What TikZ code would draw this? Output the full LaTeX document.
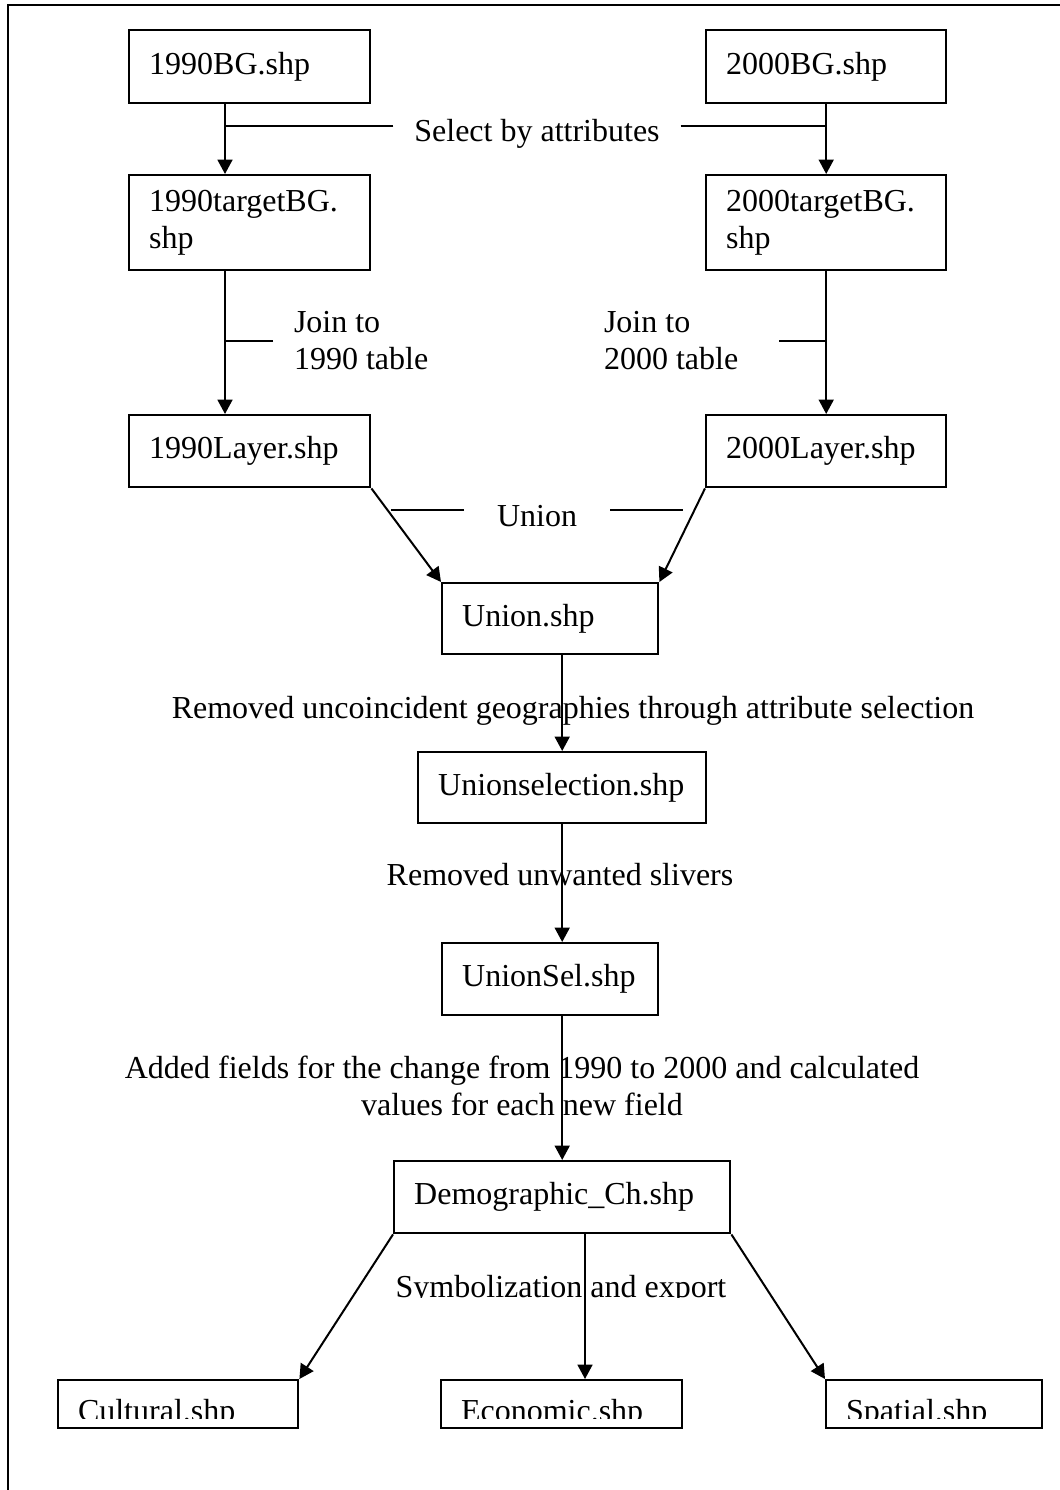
\documentclass[tikz,border=0pt]{standalone}
\usepackage{fontspec}
\setmainfont{Liberation Serif}
\usetikzlibrary{arrows.meta}

\tikzset{
  shpbox/.style 2 args={draw,line width=.9pt,anchor=north west,align=left,
    inner xsep=7.5pt,inner ysep=0pt,text width=#1*.375pt-15pt,
    minimum height=#2*.375pt},
  lbl/.style={inner xsep=7.5pt,inner ysep=0pt},
  flow/.style={->},
}

\begin{document}
\begin{tikzpicture}[x=.375pt,y=-.375pt,line width=.75pt,
  font=\fontsize{12}{13.9}\selectfont,>={Triangle[width=5.6pt,length=5.4pt]}]
 \useasboundingbox (0,0) rectangle (1060,1490);
 % page frame, cut off at right and bottom
 \draw (8,1490) -- (8,5) -- (1060,5);

 % shape files
 \node[shpbox={241}{73}] (bg90) at (128,29) {1990BG.shp};
 \node[shpbox={240}{73}] (bg00) at (705,29) {2000BG.shp};
 \node[shpbox={241}{95}] (tg90) at (128,174) {1990targetBG.\\shp};
 \node[shpbox={240}{95}] (tg00) at (705,174) {2000targetBG.\\shp};
 \node[shpbox={241}{72}] (ly90) at (128,414) {1990Layer.shp};
 \node[shpbox={240}{72}] (ly00) at (705,414) {2000Layer.shp};
 \node[shpbox={216}{71}] (uni) at (441,582) {Union.shp};
 \node[shpbox={288}{71}] (usel) at (417,751) {Unionselection.shp};
 \node[shpbox={216}{72}] (usl) at (441,942) {UnionSel.shp};
 \node[shpbox={336}{72}] (dem) at (393,1160) {Demographic\_Ch.shp};
 \node[shpbox={240}{48}] (cul) at (57,1379) {};
 \node[shpbox={241}{48}] (eco) at (440,1379) {};
 \node[shpbox={216}{48}] (spa) at (825,1379) {};

 % select by attributes
 \coordinate (ax90) at (225,0);
 \coordinate (sy) at (0,126);
 \draw[flow] (bg90.south -| ax90) -- (tg90.north -| ax90);
 \draw[flow] (bg00.south) -- (tg00.north);
 \node[lbl,anchor=base] (sel) at (537,142) {Select by attributes};
 \draw (sel.west |- sy) -- (ax90 |- sy);
 \draw (sel.east |- sy) -- (bg00.south |- sy);

 % join
 \draw[flow] (tg90.south -| ax90) -- (ly90.north -| ax90);
 \draw[flow] (tg00.south) -- (ly00.north);
 \node[lbl,anchor=west,align=left] (jn90) at (273,341) {Join to\\1990 table};
 \node[lbl,anchor=west,align=left] (jn00) at (583,341) {Join to\\2000 table};
 \draw (jn90.west) -- (jn90.west -| ax90);
 \draw ([xshift=7.5pt]jn00.east) -- (jn00.east -| tg00.south);

 % union
 \draw[flow] (ly90.south east) -- (uni.north west);
 \draw[flow] (ly00.south west) -- (uni.north east);
 \node[lbl,inner xsep=12pt,anchor=base] (un) at (537,526) {Union};
 \coordinate (uy) at (0,510);
 \draw (un.west |- uy) -- ++(-73,0);
 \draw (un.east |- uy) -- ++(73,0);

 % selections
 \draw[flow] (uni.south -| usel.north) -- (usel.north);
 \node[lbl,anchor=base] (rmg) at (573,718)
      {Removed uncoincident geographies through attribute selection};
 \draw[flow] (usel.south) -- (usel.south |- usl.north);
 \node[lbl,anchor=base] (rms) at (560,885) {Removed unwanted slivers};
 \draw[flow] (usl.south -| dem.north) -- (dem.north);
 \node[lbl,align=center] (adf) at (522,1086)
      {Added fields for the change from 1990 to 2000 and calculated\\
       values for each new field};

 % export
 \coordinate (ex) at (585,0);
 \draw[flow] (dem.south west) -- (cul.north east);
 \draw[flow] (dem.south -| ex) -- (eco.north -| ex);
 \draw[flow] (dem.south east) -- (spa.north west);
 \begin{scope}
  \clip (0,1250) rectangle (1060,1297);
  \node[lbl,anchor=base] (sym) at (561,1297) {Symbolization and export};
 \end{scope}
 \begin{scope}
  \clip (0,1379) rectangle (1060,1418);
  \node[lbl,anchor=base west] (cult) at (cul.west |- 0,1421) {Cultural.shp};
  \node[lbl,anchor=base west] (ecot) at (eco.west |- 0,1421) {Economic.shp};
  \node[lbl,anchor=base west] (spat) at (spa.west |- 0,1421) {Spatial.shp};
 \end{scope}
\end{tikzpicture}
\end{document}
